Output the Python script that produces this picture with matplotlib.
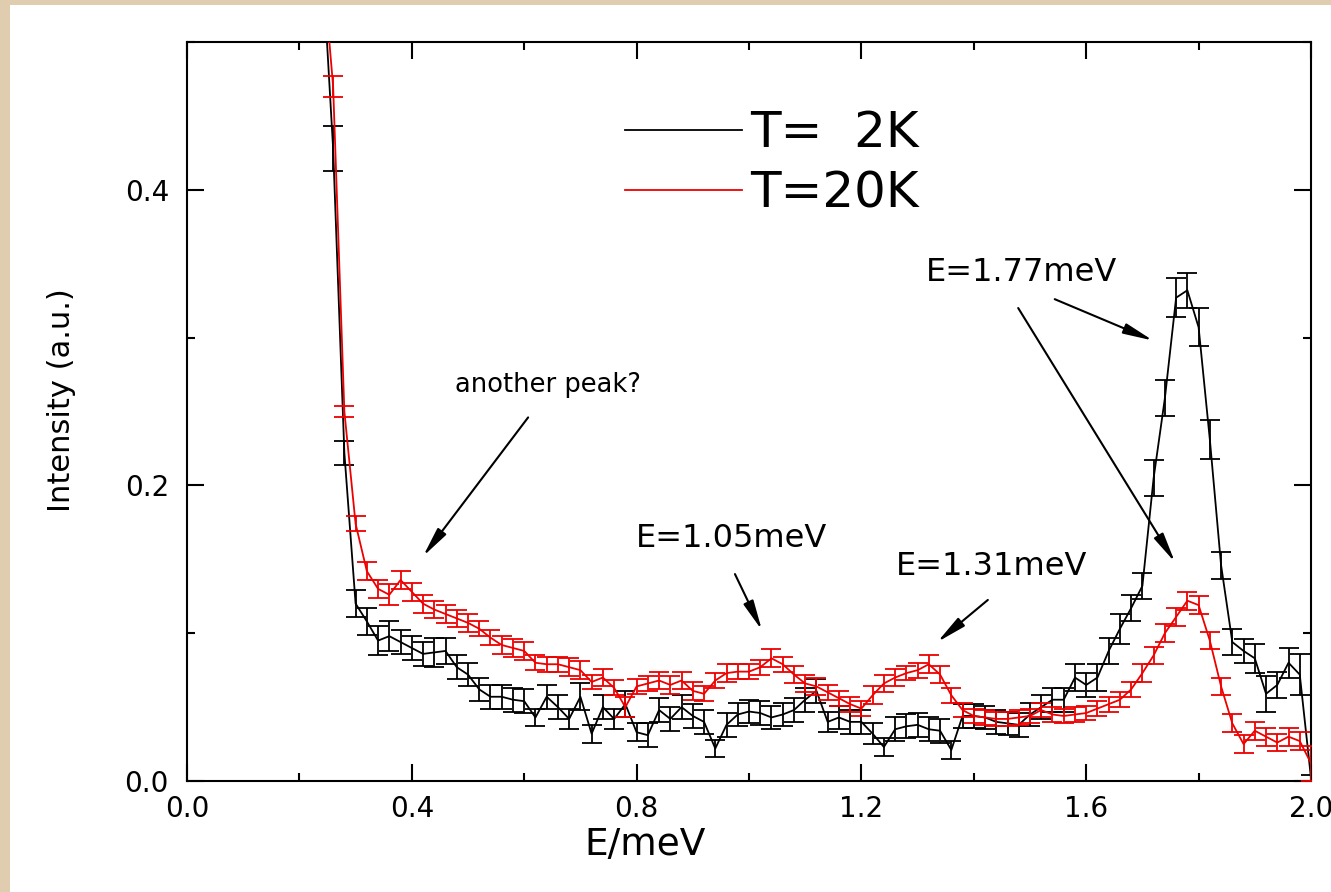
import numpy as np
import matplotlib
matplotlib.use("Agg")
import matplotlib.pyplot as plt
from matplotlib.patches import Rectangle
from matplotlib.ticker import MultipleLocator, FormatStrFormatter

# energy transfer grid (meV)
energy = [0.24, 0.26, 0.28, 0.30, 0.32, 0.34, 0.36, 0.38, 0.40, 0.42, 0.44,
          0.46, 0.48, 0.50, 0.52, 0.54, 0.56, 0.58, 0.60, 0.62, 0.64,
          0.66, 0.68, 0.70, 0.72, 0.74, 0.76, 0.78, 0.80, 0.82, 0.84,
          0.86, 0.88, 0.90, 0.92, 0.94, 0.96, 0.98, 1.00, 1.02, 1.04,
          1.06, 1.08, 1.10, 1.12, 1.14, 1.16, 1.18, 1.20, 1.22, 1.24,
          1.26, 1.28, 1.30, 1.32, 1.34, 1.36, 1.38, 1.40, 1.42, 1.44,
          1.46, 1.48, 1.50, 1.52, 1.54, 1.56, 1.58, 1.60, 1.62, 1.64,
          1.66, 1.68, 1.70, 1.72, 1.74, 1.76, 1.78, 1.80, 1.82, 1.84,
          1.86, 1.88, 1.90, 1.92, 1.94, 1.96, 1.98, 2.00]

# T = 2K (first point lies above the frame)
int_2K = [0.560, 0.428, 0.222, 0.120, 0.108, 0.095, 0.098, 0.094, 0.090, 0.086, 0.087,
          0.088, 0.077, 0.072, 0.062, 0.057, 0.057, 0.055, 0.054, 0.043, 0.057,
          0.050, 0.042, 0.057, 0.032, 0.050, 0.042, 0.052, 0.033, 0.031, 0.048,
          0.042, 0.050, 0.044, 0.040, 0.022, 0.038, 0.045, 0.047, 0.046, 0.043,
          0.045, 0.048, 0.055, 0.061, 0.040, 0.043, 0.040, 0.040, 0.032, 0.023,
          0.035, 0.037, 0.038, 0.035, 0.034, 0.021, 0.044, 0.044, 0.043, 0.040,
          0.039, 0.038, 0.045, 0.050, 0.055, 0.055, 0.070, 0.065, 0.070, 0.088,
          0.103, 0.117, 0.132, 0.205, 0.259, 0.327, 0.332, 0.307, 0.231, 0.146,
          0.094, 0.088, 0.083, 0.059, 0.065, 0.080, 0.072, 0.002]
err_2K = [0.015, 0.015, 0.008, 0.009, 0.009, 0.010, 0.010, 0.008, 0.008, 0.008, 0.010,
          0.009, 0.008, 0.008, 0.008, 0.008, 0.008, 0.008, 0.008, 0.006, 0.008,
          0.008, 0.007, 0.009, 0.006, 0.008, 0.007, 0.009, 0.006, 0.008, 0.008,
          0.008, 0.008, 0.008, 0.008, 0.006, 0.008, 0.008, 0.008, 0.008, 0.008,
          0.008, 0.008, 0.008, 0.008, 0.007, 0.008, 0.008, 0.008, 0.007, 0.006,
          0.008, 0.008, 0.008, 0.008, 0.008, 0.006, 0.008, 0.008, 0.008, 0.008,
          0.008, 0.008, 0.008, 0.008, 0.008, 0.008, 0.009, 0.008, 0.009, 0.009,
          0.010, 0.009, 0.009, 0.012, 0.012, 0.013, 0.012, 0.013, 0.013, 0.009,
          0.009, 0.008, 0.010, 0.012, 0.009, 0.010, 0.014, 0.002]

# T = 20K
int_20K = [0.560, 0.470, 0.250, 0.174, 0.142, 0.130, 0.126, 0.136, 0.128, 0.120, 0.116,
           0.113, 0.110, 0.107, 0.103, 0.097, 0.092, 0.090, 0.088, 0.080, 0.079,
           0.079, 0.077, 0.075, 0.067, 0.070, 0.063, 0.050, 0.064, 0.066, 0.068,
           0.065, 0.068, 0.061, 0.059, 0.068, 0.073, 0.074, 0.074, 0.077, 0.083,
           0.079, 0.072, 0.066, 0.064, 0.060, 0.056, 0.052, 0.049, 0.058, 0.066,
           0.070, 0.073, 0.075, 0.079, 0.072, 0.058, 0.048, 0.044, 0.043, 0.042,
           0.042, 0.043, 0.044, 0.048, 0.045, 0.044, 0.045, 0.046, 0.049, 0.052,
           0.055, 0.062, 0.073, 0.085, 0.100, 0.111, 0.122, 0.119, 0.095, 0.064,
           0.039, 0.025, 0.034, 0.030, 0.026, 0.030, 0.027, 0.012]
err_20K = [0.008, 0.007, 0.004, 0.005, 0.006, 0.006, 0.007, 0.006, 0.006, 0.006, 0.006,
           0.006, 0.006, 0.006, 0.005, 0.005, 0.006, 0.006, 0.006, 0.005, 0.005,
           0.005, 0.006, 0.006, 0.005, 0.006, 0.005, 0.007, 0.005, 0.005, 0.006,
           0.006, 0.006, 0.006, 0.005, 0.005, 0.006, 0.005, 0.005, 0.005, 0.006,
           0.005, 0.006, 0.006, 0.006, 0.005, 0.005, 0.005, 0.005, 0.006, 0.006,
           0.006, 0.005, 0.005, 0.006, 0.006, 0.005, 0.005, 0.005, 0.005, 0.005,
           0.005, 0.005, 0.005, 0.005, 0.005, 0.005, 0.005, 0.005, 0.005, 0.005,
           0.005, 0.005, 0.006, 0.006, 0.006, 0.006, 0.006, 0.006, 0.006, 0.006,
           0.006, 0.006, 0.006, 0.006, 0.006, 0.006, 0.006, 0.012]

W, H = 1331, 892
fig = plt.figure(figsize=(W / 100, H / 100), dpi=100, facecolor='#e0cdb0')
fig.patches.append(Rectangle((10 / W, 0), 1 - 10 / W, 1 - 5 / H, transform=fig.transFigure,
                             facecolor='white', edgecolor='none', zorder=-1))
ax = fig.add_axes([187 / W, 1 - 781 / H, (1311 - 187) / W, (781 - 42) / H])
ax.set_facecolor('white')

eb2 = ax.errorbar(energy, int_2K, yerr=err_2K, color='black', lw=1.3, elinewidth=1.3,
                  capsize=7, capthick=1.3, zorder=2)
eb20 = ax.errorbar(energy, int_20K, yerr=err_20K, color='#ee0000', lw=1.3, elinewidth=1.3,
                   capsize=7, capthick=1.3, zorder=3)

ax.set_xlim(0, 2.0)
ax.set_ylim(0, 0.5)
ax.set_xticks([0.0, 0.4, 0.8, 1.2, 1.6, 2.0])
ax.set_yticks([0.0, 0.2, 0.4])
ax.xaxis.set_minor_locator(MultipleLocator(0.2))
ax.yaxis.set_minor_locator(MultipleLocator(0.1))
ax.xaxis.set_major_formatter(FormatStrFormatter('%.1f'))
ax.yaxis.set_major_formatter(FormatStrFormatter('%.1f'))
ax.tick_params(which='both', direction='in', top=True, right=True, width=1.5, colors='black')
ax.tick_params(which='major', length=12, labelsize=20)
ax.tick_params(which='minor', length=6)
ax.tick_params(axis='x', which='major', pad=10)
ax.tick_params(axis='y', which='major', pad=13)
for s in ax.spines.values():
    s.set_linewidth(1.5)

ax.set_xlabel('E/meV', fontsize=27)
ax.xaxis.set_label_coords(0.4075, -0.062)
ax.set_ylabel('Intensity (a.u.)', fontsize=22)
ax.yaxis.set_label_coords(-0.099, 0.515)

ax.legend(handles=[eb2[0], eb20[0]], labels=['T=  2K', 'T=20K'], loc='upper left',
          bbox_to_anchor=(0.39, 0.909), frameon=False, fontsize=36, handlelength=2.34,
          handletextpad=0.16, labelspacing=0.25, borderpad=0, borderaxespad=0)

# annotations
arrow = dict(arrowstyle='-|>,head_length=0.9,head_width=0.16', color='black', lw=1.5,
             mutation_scale=20, shrinkA=0, shrinkB=0)
ax.text(0.477, 0.268, 'another peak?', fontsize=18.5, ha='left', va='center')
ax.annotate('', xy=(0.42, 0.152), xytext=(0.607, 0.246), arrowprops=arrow)
ax.text(0.968, 0.164, 'E=1.05meV', fontsize=23, ha='center', va='center')
ax.annotate('', xy=(1.023, 0.102), xytext=(0.975, 0.140), arrowprops=arrow)
ax.text(1.431, 0.145, 'E=1.31meV', fontsize=23, ha='center', va='center')
ax.annotate('', xy=(1.335, 0.094), xytext=(1.425, 0.1225), arrowprops=arrow)
ax.text(1.484, 0.344, 'E=1.77meV', fontsize=23, ha='center', va='center')
ax.annotate('', xy=(1.719, 0.298), xytext=(1.544, 0.326), arrowprops=arrow)
ax.annotate('', xy=(1.758, 0.148), xytext=(1.479, 0.32), arrowprops=arrow)

fig.savefig('out.png', dpi=100, facecolor=fig.get_facecolor())
